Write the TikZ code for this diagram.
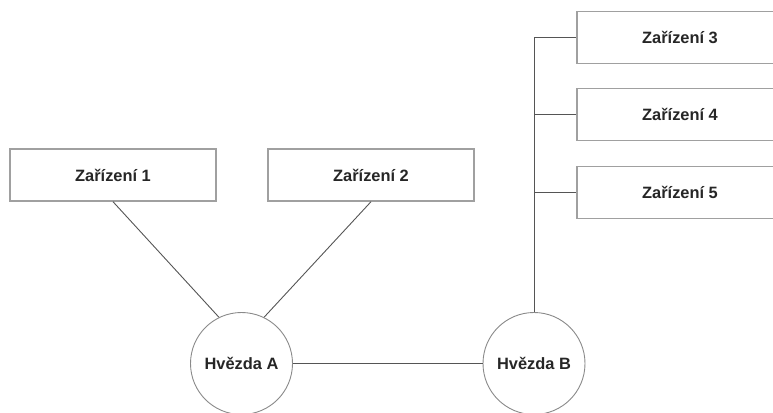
\documentclass[tikz,border=0pt]{standalone}
\usepackage{fontspec}
\setmainfont{Liberation Sans}
\begin{document}
\begin{tikzpicture}[x=1pt,y=-1pt,
  devbox/.style={draw=boxgray,line width=1.4pt,fill=white,minimum width=206pt,minimum height=52pt,inner sep=0pt,font=\bfseries\fontsize{16.4}{18}\selectfont,text=txt},
  star/.style={circle,draw=circgray,line width=0.9pt,fill=white,minimum size=102pt,inner sep=0pt,font=\bfseries\fontsize{16.4}{18}\selectfont,text=txt},
  conn/.style={draw=linegray,line width=0.9pt}]
\definecolor{boxgray}{HTML}{A0A0A0}
\definecolor{circgray}{HTML}{8A8A8A}
\definecolor{linegray}{HTML}{555555}
\definecolor{txt}{HTML}{262626}
\useasboundingbox (0,0) rectangle (773,412);
\clip (0,0) rectangle (773,412);
\node[devbox] (d1) at (113,175) {Zařízení 1};
\node[devbox] (d2) at (371,175) {Zařízení 2};
\node[devbox] (d3) at (680,37.5) {Zařízení 3};
\node[devbox] (d4) at (680,114.5) {Zařízení 4};
\node[devbox] (d5) at (680,192.5) {Zařízení 5};
\node[star] (a) at (241.5,363.5) {Hvězda A};
\node[star] (b) at (534,363.5) {Hvězda B};
\draw[conn] (d1.south) -- (a.116);
\draw[conn] (d2.south) -- (a.64);
\draw[conn] (a.east) -- (b.west);
\coordinate (t3) at (534,37.5);
\coordinate (t4) at (534,114.5);
\coordinate (t5) at (534,192.5);
\draw[conn] (b.north) -- (t3) -- (d3.west);
\draw[conn] (t4) -- (d4.west);
\draw[conn] (t5) -- (d5.west);
\end{tikzpicture}
\end{document}
